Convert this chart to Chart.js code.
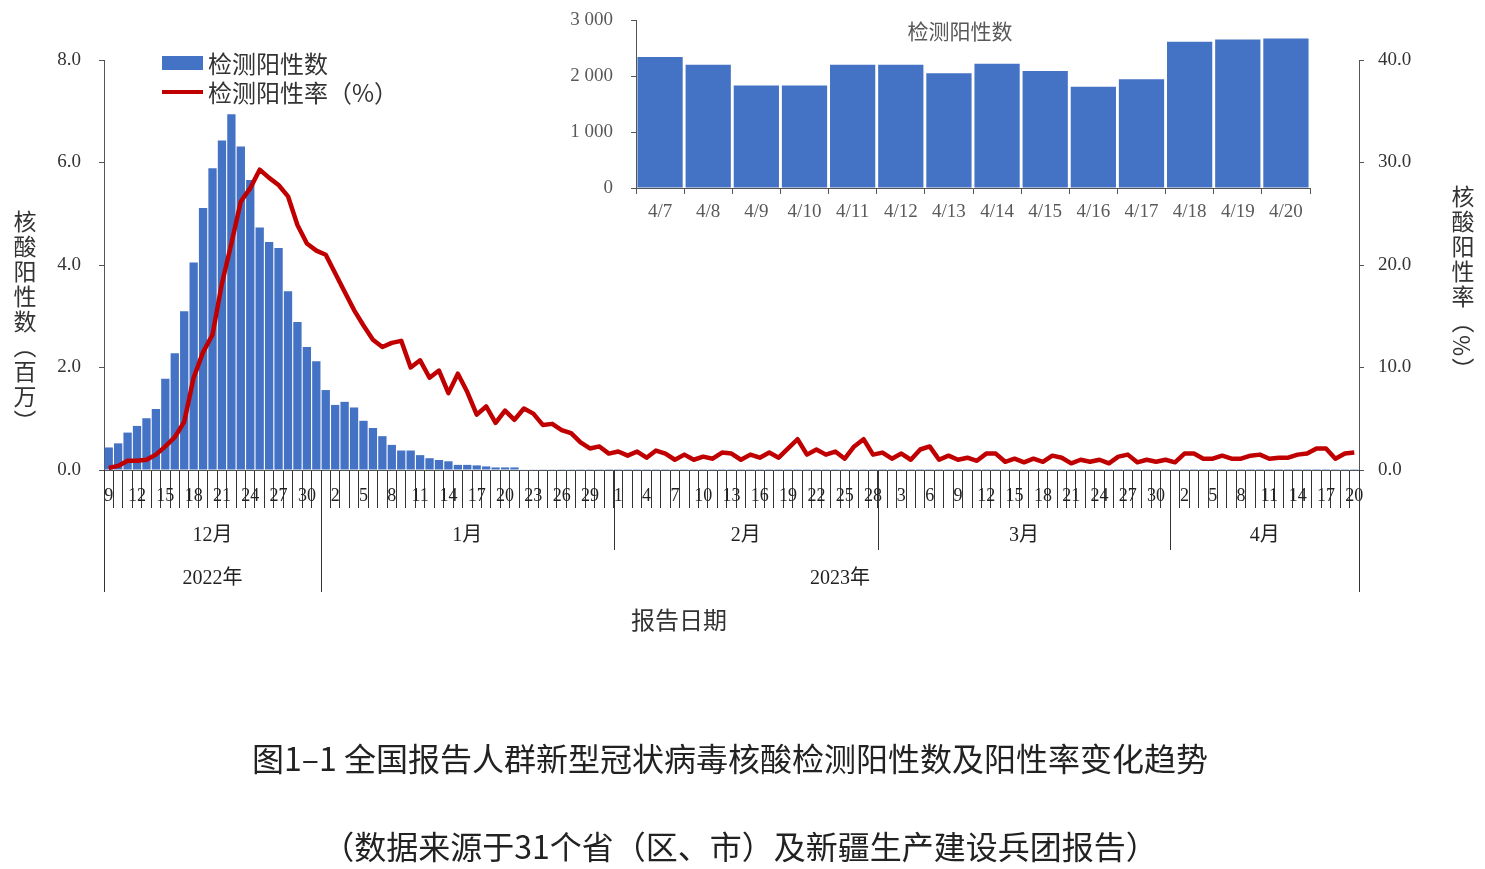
<html lang="zh">
<head>
<meta charset="UTF-8">
<title>全国报告人群新型冠状病毒核酸检测阳性数及阳性率变化趋势</title>
<style>
  body { margin: 0; background: #fff; width: 1485px; height: 869px; position: relative; overflow: hidden;
         font-family: "Noto Sans CJK SC", "Noto Sans", sans-serif; color: #333; }
  canvas { position: absolute; }
  .abs { position: absolute; white-space: nowrap; }
  .vtitle { writing-mode: vertical-rl; font-size: 23px; letter-spacing: 2px; color: #333; }
</style>
</head>
<body>
<canvas id="main" width="1485" height="869" style="left:0;top:0"></canvas>
<canvas id="inset" width="800" height="260" style="left:540px;top:-20px"></canvas>

<!-- legend -->
<div class="abs" style="left:162px;top:56px;width:41px;height:14px;background:#4472C4"></div>
<div class="abs" style="left:208px;top:47px;font-size:24px;line-height:32px">检测阳性数</div>
<div class="abs" style="left:162px;top:90px;width:41px;height:4px;background:#C00000"></div>
<div class="abs" style="left:208px;top:76px;font-size:24px;line-height:32px">检测阳性率（%）</div>

<div class="abs" style="left:860px;top:15px;width:200px;text-align:center;font-size:21px;color:#595959">检测阳性数</div>

<div class="abs vtitle" style="left:8px;top:210px">核酸阳性数（百万）</div>
<div class="abs vtitle" style="left:1446px;top:185px">核酸阳性率（%）</div>

<div class="abs" style="left:579px;top:601px;width:200px;text-align:center;font-size:24px">报告日期</div>

<div class="abs" style="left:0;top:734px;width:1460px;text-align:center;font-size:32px;color:#222">图1–1 全国报告人群新型冠状病毒核酸检测阳性数及阳性率变化趋势</div>
<div class="abs" style="left:0;top:822px;width:1480px;text-align:center;font-size:32px;color:#222">（数据来源于31个省（区、市）及新疆生产建设兵团报告）</div>

<script src="https://cdn.jsdelivr.net/npm/chart.js"></script>
<script>
// months shown on the axis: name, year, first day, last day
const monthNames = ['12月', '1月', '2月', '3月', '4月'];
const monthYears = ['2022年', '2023年', '2023年', '2023年', '2023年'];
const monthFirstDay = [9, 1, 1, 1, 1];
const monthLastDay = [31, 31, 28, 31, 20];

// daily positives, millions
const positiveMillions = [
  // Dec 9-31
  0.44, 0.52, 0.73, 0.86, 1.01, 1.19, 1.78, 2.28, 3.10, 4.05, 5.11, 5.89, 6.43, 6.94, 6.31, 5.66, 4.73, 4.45, 4.33, 3.49, 2.89, 2.40, 2.12,
  // Jan
  1.56, 1.27, 1.33, 1.22, 0.96, 0.82, 0.66, 0.49, 0.38, 0.38, 0.29, 0.23, 0.195, 0.17, 0.10, 0.10, 0.09, 0.07, 0.05, 0.05, 0.05,
  0.008, 0.007, 0.006, 0.006, 0.005, 0.005, 0.004, 0.004, 0.004, 0.003,
  // Feb
  0.003, 0.003, 0.003, 0.003, 0.003, 0.003, 0.003, 0.003, 0.003, 0.003, 0.003, 0.003, 0.003, 0.003,
  0.003, 0.003, 0.003, 0.003, 0.003, 0.003, 0.003, 0.003, 0.003, 0.003, 0.003, 0.003, 0.003, 0.003,
  // Mar
  0.0025, 0.0025, 0.0025, 0.0025, 0.0025, 0.0025, 0.0025, 0.0025, 0.0025, 0.0025, 0.0025, 0.0025, 0.0025, 0.0025, 0.0025, 0.0025,
  0.0025, 0.0025, 0.0025, 0.0025, 0.0025, 0.0025, 0.0025, 0.0025, 0.0025, 0.0025, 0.0025, 0.0025, 0.0025, 0.0025, 0.0025,
  // Apr
  0.0022, 0.0022, 0.0022, 0.0022, 0.0022, 0.0022,
  0.00234, 0.0022, 0.00183, 0.00183, 0.0022, 0.0022, 0.00205, 0.00222, 0.00209, 0.00181, 0.00194, 0.00261, 0.00265, 0.00267
];

// positive rate, %
const positiveRate = [
  // Dec 9-31
  0.2, 0.4, 0.9, 0.9, 1.0, 1.5, 2.3, 3.2, 4.7, 9.0, 11.5, 13.2, 18.2, 22.1, 26.2, 27.5, 29.3, 28.5, 27.8, 26.7, 23.9, 22.1, 21.4,
  // Jan
  21.0, 19.2, 17.4, 15.6, 14.1, 12.7, 12.0, 12.4, 12.6, 10.0, 10.7, 9.0, 9.7, 7.5, 9.4, 7.6, 5.4, 6.2, 4.6, 5.8, 4.9,
  6.0, 5.5, 4.4, 4.5, 3.9, 3.6, 2.7, 2.1, 2.3, 1.6,
  // Feb
  1.8, 1.4, 1.8, 1.2, 1.9, 1.6, 1.0, 1.5, 1.0, 1.3, 1.1, 1.7, 1.6, 1.0, 1.5, 1.2, 1.7, 1.2, 2.1, 3.0, 1.5, 2.0, 1.5, 1.8, 1.1, 2.3, 3.0, 1.5,
  // Mar
  1.7, 1.1, 1.6, 1.0, 2.0, 2.3, 1.0, 1.4, 1.0, 1.2, 0.9, 1.6, 1.6, 0.8, 1.1, 0.75, 1.1, 0.8, 1.4, 1.2, 0.65, 1.0, 0.8, 1.0, 0.65, 1.3, 1.5, 0.75, 1.0, 0.8, 1.0,
  // Apr
  0.75, 1.6, 1.6, 1.1, 1.1, 1.4, 1.1, 1.1, 1.4, 1.5, 1.1, 1.2, 1.2, 1.5, 1.6, 2.1, 2.1, 1.1, 1.6, 1.7
];

// inset: Apr 7-20 counts
const insetDates = ['4/7', '4/8', '4/9', '4/10', '4/11', '4/12', '4/13', '4/14', '4/15', '4/16', '4/17', '4/18', '4/19', '4/20'];
const insetCounts = [2340, 2200, 1830, 1830, 2200, 2200, 2050, 2220, 2090, 1810, 1940, 2610, 2650, 2670];

// day labels + month spans
const dayLabels = [];
const monthStart = [];
monthNames.forEach((m, k) => {
  monthStart.push(dayLabels.length);
  for (let d = monthFirstDay[k]; d <= monthLastDay[k]; d++) dayLabels.push(String(d));
});
monthStart.push(dayLabels.length);

const serif = '"Liberation Serif", "Times New Roman", "Noto Sans CJK SC", serif';

// month / year rows under the day ticks
const dateLevels = {
  id: 'dateLevels',
  afterDraw(chart) {
    const x = chart.scales.x, ctx = chart.ctx;
    const top = chart.chartArea.bottom;
    const step = x.getPixelForValue(1) - x.getPixelForValue(0);
    const edge = i => x.getPixelForValue(0) + (i - 0.5) * step;
    ctx.save();
    ctx.strokeStyle = '#333';
    ctx.lineWidth = 1;
    ctx.fillStyle = '#222';
    ctx.font = '20px ' + serif;
    ctx.textAlign = 'center';
    ctx.textBaseline = 'middle';
    for (let k = 0; k < monthStart.length; k++) {
      const px = Math.round(edge(monthStart[k])) + 0.5;
      const isYear = k === 0 || k === monthStart.length - 1 || monthYears[k] !== monthYears[k - 1];
      ctx.beginPath();
      ctx.moveTo(px, top);
      ctx.lineTo(px, top + (isYear ? 122 : 80));
      ctx.stroke();
    }
    monthNames.forEach((m, k) => {
      ctx.fillText(m, (edge(monthStart[k]) + edge(monthStart[k + 1])) / 2, top + 66);
    });
    // year spans
    let s = 0;
    for (let k = 1; k <= monthNames.length; k++) {
      if (k === monthNames.length || monthYears[k] !== monthYears[s]) {
        ctx.fillText(monthYears[s], (edge(monthStart[s]) + edge(monthStart[k])) / 2, top + 109);
        s = k;
      }
    }
    ctx.restore();
  }
};

new Chart(document.getElementById('main'), {
  type: 'bar',
  data: {
    labels: dayLabels,
    datasets: [
      { type: 'line', label: '检测阳性率（%）', data: positiveRate, yAxisID: 'y1', borderColor: '#C00000',
        borderWidth: 4.5, pointRadius: 0, tension: 0, borderJoinStyle: 'round', order: 0 },
      { type: 'bar', label: '检测阳性数', data: positiveMillions, yAxisID: 'y', backgroundColor: '#4472C4',
        barPercentage: 0.88, categoryPercentage: 1, order: 1 }
    ]
  },
  options: {
    responsive: false,
    animation: false,
    layout: { padding: { top: 60, left: 0, right: 0, bottom: 0 } },
    plugins: { legend: { display: false }, tooltip: { enabled: false } },
    scales: {
      x: {
        offset: true,
        grid: { offset: true, drawOnChartArea: false, drawTicks: true, tickLength: 38, color: '#333' },
        border: { display: true, color: '#555' },
        ticks: { autoSkip: false, maxRotation: 0, minRotation: 0, padding: -23, color: '#222',
                 font: { family: serif, size: 18 },
                 callback: (v, i) => (i % 3 === 0 ? dayLabels[i] : '') },
        afterFit: s => { s.height = 869 - 470; }
      },
      y: {
        position: 'left', min: 0, max: 8,
        ticks: { stepSize: 2, callback: v => v.toFixed(1), padding: 18, color: '#333', font: { family: serif, size: 19 } },
        grid: { drawOnChartArea: false, tickLength: 5, color: '#555' },
        border: { color: '#555' },
        afterFit: s => { s.width = 104; }
      },
      y1: {
        position: 'right', min: 0, max: 40,
        ticks: { stepSize: 10, callback: v => v.toFixed(1), padding: 14, color: '#333', font: { family: serif, size: 19 } },
        grid: { drawOnChartArea: false, tickLength: 5, color: '#555' },
        border: { color: '#555' },
        afterFit: s => { s.width = 1485 - 1359; }
      }
    }
  },
  plugins: [dateLevels]
});

new Chart(document.getElementById('inset'), {
  type: 'bar',
  data: {
    labels: insetDates,
    datasets: [{ label: '检测阳性数', data: insetCounts, backgroundColor: '#4472C4', barPercentage: 0.94, categoryPercentage: 1 }]
  },
  options: {
    responsive: false,
    animation: false,
    layout: { padding: { top: 40, right: 30, left: 0, bottom: 0 } },
    plugins: { legend: { display: false }, tooltip: { enabled: false } },
    scales: {
      x: {
        grid: { offset: true, drawOnChartArea: false, tickLength: 6, color: '#555' },
        border: { color: '#555' },
        ticks: { autoSkip: false, maxRotation: 0, padding: 7, color: '#595959', font: { family: serif, size: 19 } },
        afterFit: s => { s.height = 52; }
      },
      y: {
        min: 0, max: 3000,
        ticks: { stepSize: 1000, padding: 18, color: '#595959', font: { family: serif, size: 19 },
                 callback: v => String(v).replace(/\B(?=(\d{3})+$)/g, ' ') },
        grid: { drawOnChartArea: false, tickLength: 5, color: '#555' },
        border: { color: '#555' },
        afterFit: s => { s.width = 96; }
      }
    }
  }
});
</script>
</body>
</html>
